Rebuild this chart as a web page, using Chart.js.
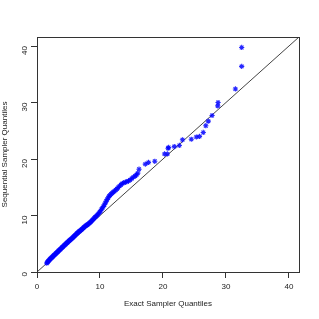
<!DOCTYPE html>
<html><head><meta charset="utf-8">
<script src="https://cdn.jsdelivr.net/npm/chart.js@4/dist/chart.umd.min.js"></script>
<style>html,body{margin:0;padding:0;background:#fff;}#wrap{width:319px;height:319px;}</style>
</head><body><div id="wrap"><canvas id="c" width="319" height="319"></canvas></div>
<script>
const exactQ = [1.55,1.62,1.70,1.78,1.85,1.93,2.02,2.10,2.18,2.27,2.35,2.44,2.52,2.61,2.70,2.78,2.87,2.95,3.04,3.13,3.22,3.30,3.39,3.48,3.57,3.66,3.75,3.84,3.93,4.02,4.12,4.21,4.30,4.40,4.49,4.58,4.68,4.77,4.87,4.96,5.06,5.16,5.25,5.35,5.45,5.55,5.65,5.75,5.85,5.95,6.05,6.16,6.26,6.36,6.47,6.57,6.68,6.79,6.90,7.01,7.12,7.23,7.34,7.46,7.57,7.69,7.81,7.93,8.05,8.17,8.30,8.42,8.55,8.68,8.81,8.95,9.08,9.22,9.36,9.50,9.65,9.80,9.95,10.10,10.25,10.40,10.55,10.70,10.85,11.00,11.15,11.30,11.45,11.60,11.78,11.95,12.12,12.30,12.50,12.70,12.90,13.10,13.32,13.55,13.78,14.02,14.27,14.52,14.78,15.05,15.32,15.60,15.80,16.00,16.20,17.20,17.70,18.70,20.25,20.70,20.80,20.90,21.80,22.60,23.10,24.50,25.30,25.80,26.40,26.80,27.20,27.80,28.70,28.75,31.50,32.50,32.50];
const seqQ = [1.55,1.68,1.78,1.90,1.98,2.10,2.22,2.30,2.38,2.50,2.58,2.66,2.76,2.86,2.95,3.04,3.12,3.22,3.32,3.42,3.52,3.60,3.70,3.80,3.88,3.98,4.08,4.18,4.28,4.38,4.48,4.58,4.68,4.78,4.88,4.97,5.08,5.18,5.28,5.38,5.48,5.58,5.68,5.77,5.86,5.95,6.05,6.16,6.28,6.39,6.50,6.62,6.74,6.85,6.96,7.06,7.16,7.26,7.36,7.46,7.57,7.68,7.80,7.92,8.03,8.14,8.24,8.33,8.42,8.52,8.63,8.76,8.90,9.05,9.20,9.36,9.52,9.68,9.84,10.00,10.18,10.38,10.60,10.85,11.10,11.35,11.62,11.90,12.20,12.55,12.85,13.15,13.40,13.60,13.80,14.00,14.15,14.30,14.50,14.72,14.95,15.20,15.45,15.65,15.80,15.90,16.00,16.10,16.30,16.55,16.80,17.00,17.20,17.50,18.20,19.10,19.40,19.60,20.90,20.90,21.90,22.05,22.20,22.40,23.40,23.50,23.90,24.00,24.70,25.90,26.70,27.70,29.40,30.00,32.40,36.40,39.75];
const refLine = [0, 41.6];
const tickValues = [0, 10, 20, 30, 40];
const xTitle = 'Exact Sampler Quantiles';
const yTitle = 'Sequential Sampler Quantiles';

const pts = exactQ.map((v, i) => ({x: v, y: seqQ[i]}));
const linePts = refLine.map(v => ({x: v, y: v}));
const FONT = {family: "'Liberation Sans', Arial, sans-serif", size: 8};

const boxPlugin = {
  id: 'box',
  afterDraw(chart) {
    const a = chart.chartArea, ctx = chart.ctx;
    ctx.save();
    ctx.strokeStyle = '#333';
    ctx.lineWidth = 1;
    ctx.strokeRect(Math.round(a.left) + 0.5, Math.round(a.top) + 0.5, Math.round(a.right - a.left), Math.round(a.bottom - a.top));
    ctx.restore();
  }
};

new Chart(document.getElementById('c'), {
  type: 'scatter',
  data: {
    datasets: [
      {type: 'line', data: linePts, borderColor: '#444', borderWidth: 1, pointRadius: 0, fill: false, order: 2},
      {data: pts, pointStyle: 'star', pointRadius: 2.6, borderColor: 'rgba(0,0,255,0.85)', backgroundColor: 'rgba(0,0,255,0.85)', borderWidth: 1.1, order: 1}
    ]
  },
  options: {
    responsive: false,
    animation: false,
    devicePixelRatio: 1,
    layout: {padding: {left: 0, top: 37, right: 20, bottom: 0}},
    plugins: {legend: {display: false}, tooltip: {enabled: false}},
    scales: {
      x: {
        type: 'linear', min: 0, max: 41.6,
        afterBuildTicks(s) { s.ticks = tickValues.map(v => ({value: v})); },
        afterFit(s) { s.height = 47; },
        grid: {drawOnChartArea: false, drawTicks: true, tickLength: 6, color: '#333'},
        border: {display: false},
        ticks: {font: FONT, color: '#222', padding: 4, maxRotation: 0},
        title: {display: true, text: xTitle, font: FONT, color: '#222', padding: {top: 0, bottom: 10}}
      },
      y: {
        type: 'linear', min: 0, max: 41.6,
        afterBuildTicks(s) { s.ticks = tickValues.map(v => ({value: v})); },
        afterFit(s) { s.width = 37; },
        grid: {drawOnChartArea: false, drawTicks: true, tickLength: 6, color: '#333'},
        border: {display: false},
        ticks: {font: FONT, color: '#222', padding: 6, minRotation: 90, maxRotation: 90},
        title: {display: true, text: yTitle, font: FONT, color: '#222', padding: {top: 0, bottom: 2}}
      }
    }
  },
  plugins: [boxPlugin]
});
</script>
</body></html>
